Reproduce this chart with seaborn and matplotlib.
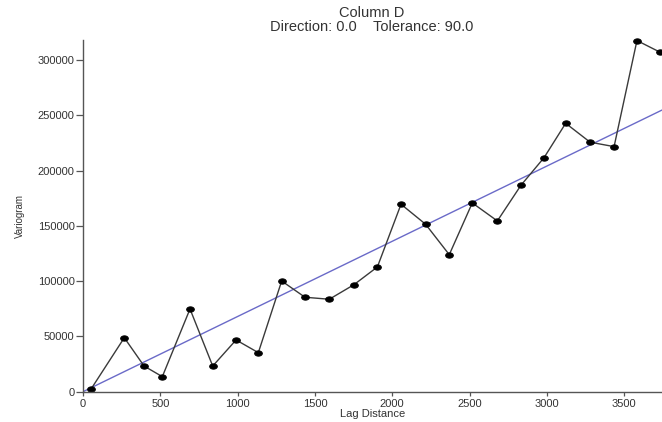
import numpy as np
import pandas as pd
import matplotlib
matplotlib.use("Agg")
import matplotlib.pyplot as plt
from matplotlib.path import Path
import seaborn as sns

# Experimental semivariogram of Column D (omnidirectional)
lag_distance = [52, 267, 395, 513, 692, 839, 990, 1134, 1285, 1436, 1593, 1753,
                1904, 2057, 2216, 2369, 2518, 2680, 2833, 2982, 3122, 3280,
                3435, 3583, 3732]
variogram = [2400, 48800, 23200, 13600, 74800, 23200, 46800, 35300, 100100,
             85400, 83600, 96800, 112800, 169500, 151400, 123900, 170700,
             154400, 186700, 211600, 242700, 225600, 221600, 317500, 307000]

# Linear model fitted to the experimental points (zero nugget)
model_slope = 68.0
model_lags = [0, 3745]

x_ticks = [0, 500, 1000, 1500, 2000, 2500, 3000, 3500]
y_ticks = [0, 50000, 100000, 150000, 200000, 250000, 300000]

sns.set_theme(style="white")
plt.rcParams["font.family"] = ["Liberation Sans", "DejaVu Sans"]

df = pd.DataFrame({"lag": lag_distance, "gamma": variogram})
model_df = pd.DataFrame({"lag": model_lags,
                         "gamma": [model_slope * h for h in model_lags]})

# slightly wide elliptical dot marker
circle = Path.unit_circle()
ellipse = Path(circle.vertices * np.array([1.45, 1.0]), circle.codes)

fig = plt.figure(figsize=(6.62, 4.22), dpi=100)
ax = fig.add_axes([0.1254, 0.0718, 0.8746, 0.8334])

sns.lineplot(data=model_df, x="lag", y="gamma", ax=ax, color="#6a6ac8",
             linewidth=1.0, sort=False)
sns.lineplot(data=df, x="lag", y="gamma", ax=ax, color="#3a3a3a",
             linewidth=1.0, sort=False, marker=ellipse, markersize=5.5,
             markerfacecolor="black", markeredgecolor="black",
             clip_on=False)

ax.set_xlim(0, 3745)
ax.set_ylim(0, 318000)
ax.set_xticks(x_ticks)
ax.set_yticks(y_ticks)
ax.set_xticklabels([str(v) for v in x_ticks])
ax.set_yticklabels([str(v) for v in y_ticks])

for side in ("top", "right"):
    ax.spines[side].set_visible(False)
for side in ("left", "bottom"):
    ax.spines[side].set_color("#555555")
    ax.spines[side].set_linewidth(1.0)

ax.tick_params(axis="both", which="major", direction="out", length=5,
               width=0.9, color="#555555", labelsize=8, labelcolor="#333333",
               bottom=True, left=True)
ax.tick_params(axis="x", pad=2, length=3)
ax.tick_params(axis="y", pad=1)

ax.set_xlabel("Lag Distance", fontsize=8, color="#333333", labelpad=0)
ax.set_ylabel("Variogram", fontsize=7, color="#333333", labelpad=9)

fig.text(0.562, 0.970, "Column D", ha="center", va="center",
         fontsize=10.5, color="#333333")
fig.text(0.562, 0.935, "Direction: 0.0    Tolerance: 90.0", ha="center",
         va="center", fontsize=10.5, color="#333333")

fig.savefig("out.png", dpi=100)
